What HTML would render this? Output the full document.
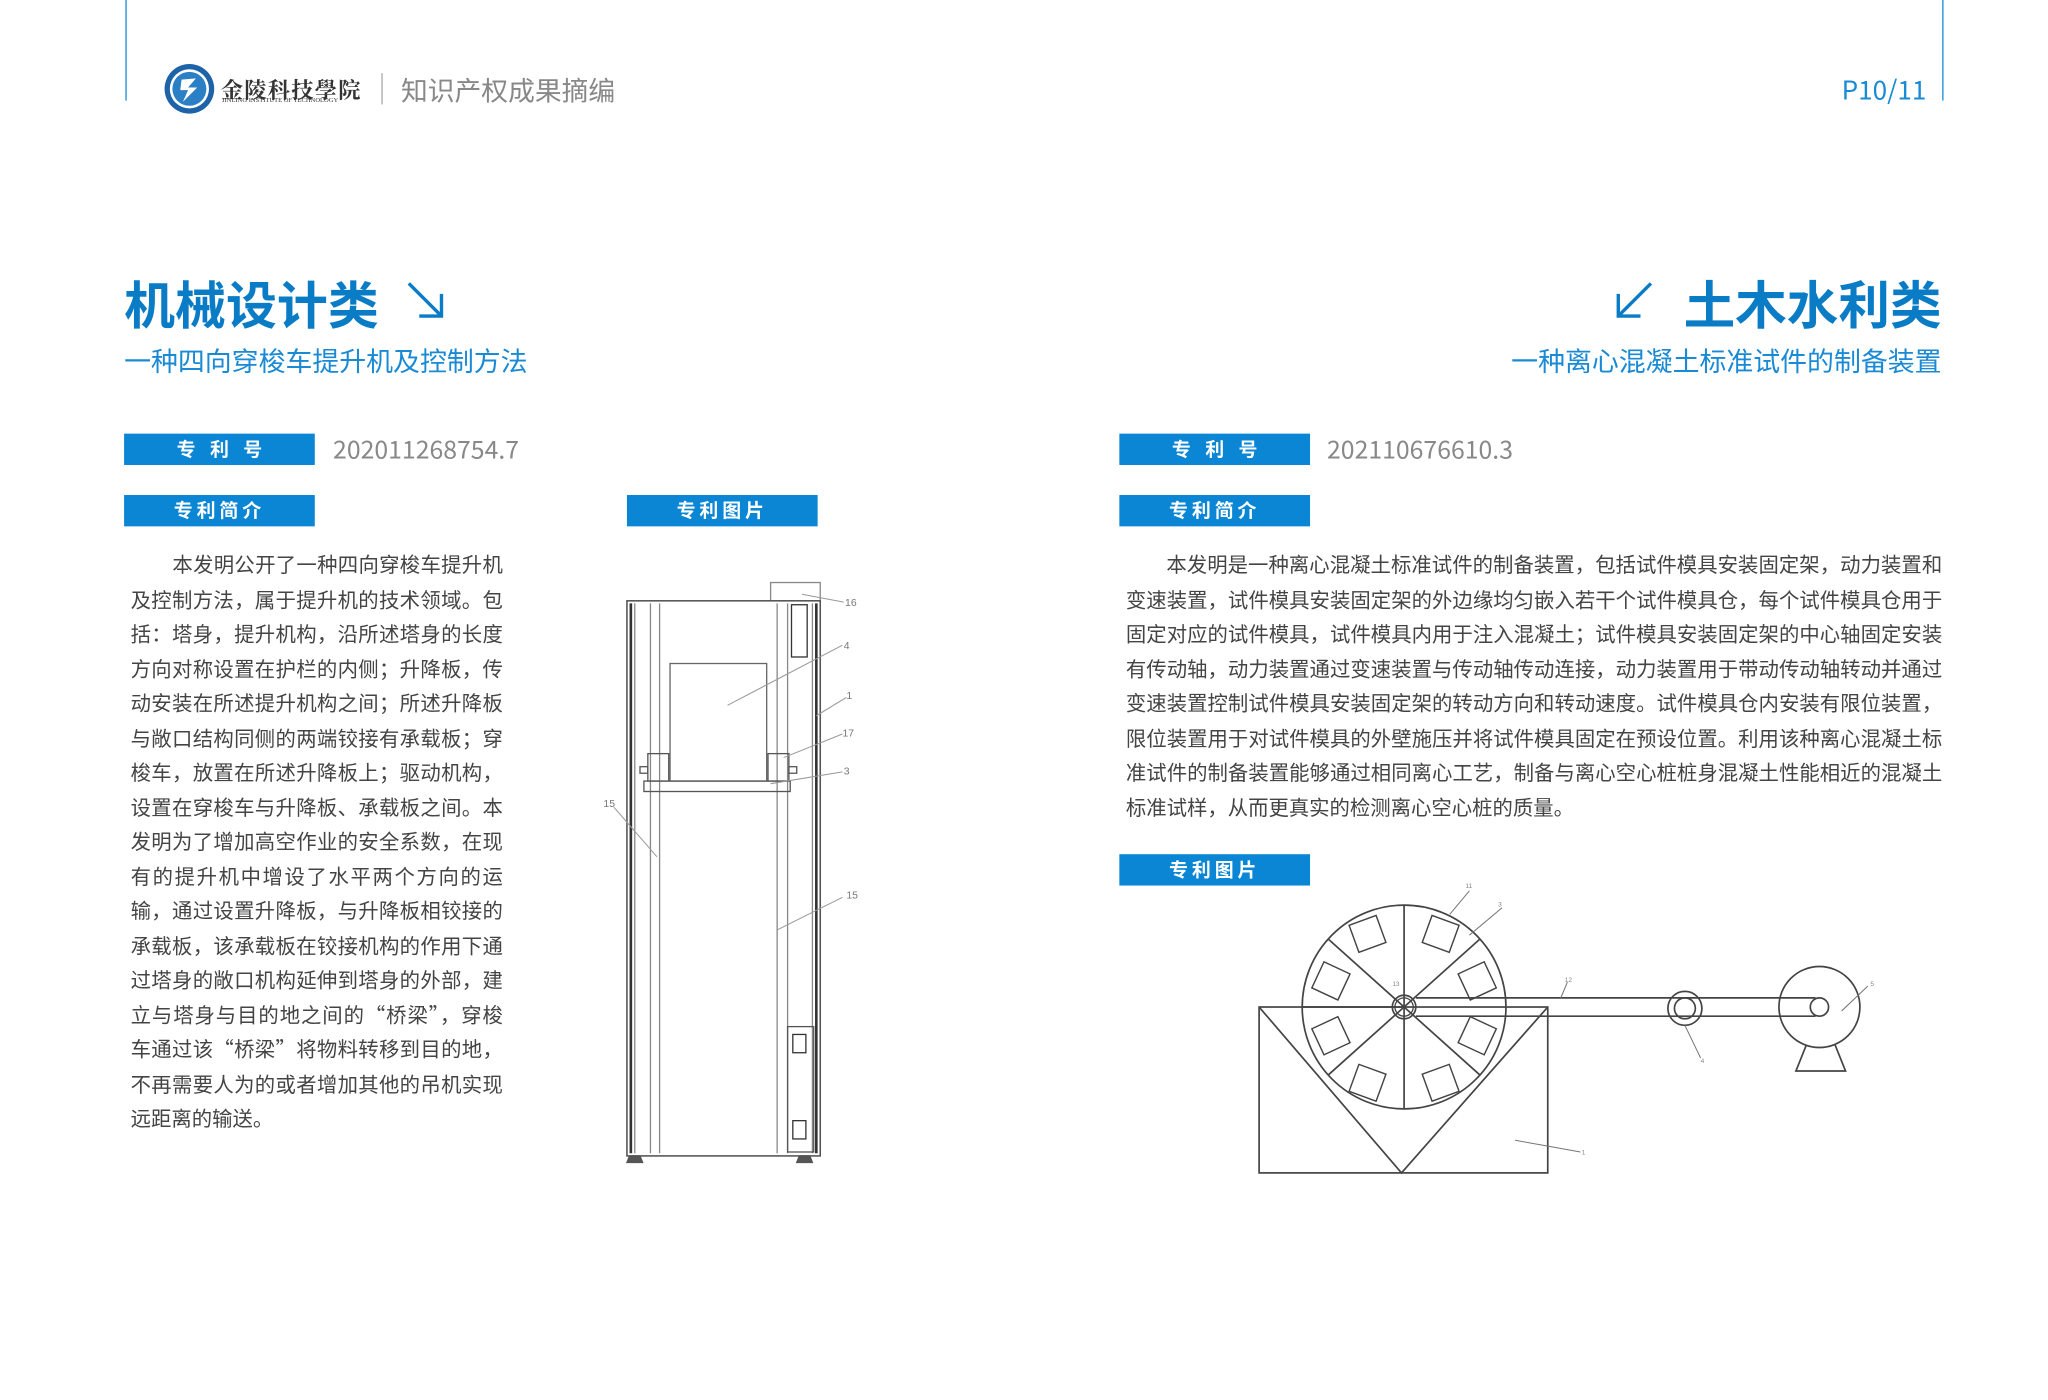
<!DOCTYPE html>
<html><head><meta charset="utf-8">
<style>
html,body{margin:0;padding:0;background:#fff;width:2048px;height:1399px;overflow:hidden}
#w{position:absolute;left:0;top:0;width:1568px;height:1072px;transform:scale(1.306122);transform-origin:0 0;font-family:"Liberation Sans","Noto Sans CJK SC",sans-serif}
.a{position:absolute;white-space:nowrap}
.box{position:absolute;width:146px;height:24px;background:#0a86d4;color:#fff;font-weight:bold;font-size:14.5px;line-height:24px;text-align:center;font-family:"Noto Sans CJK SC",sans-serif}
.num{position:absolute;font-size:19px;color:#888;line-height:24px;font-family:"Noto Sans CJK SC","Liberation Sans",sans-serif}
.ln{position:absolute;font-size:15.6px;color:#444;line-height:20px;height:20px;white-space:nowrap;text-align:justify;text-align-last:justify;font-family:"Noto Sans CJK SC",sans-serif}
.t{font-family:"Noto Sans CJK SC",sans-serif}
</style></head><body><div id="w">
<div class="a" style="left:95.5px;top:0;width:1.6px;height:77px;background:#1a8ad4"></div>
<div class="a" style="left:1486.5px;top:0;width:1.6px;height:77px;background:#1a8ad4"></div>
<svg class="a" style="left:124px;top:47px" width="42" height="42" viewBox="0 0 42 42"><circle cx="21" cy="21" r="19" fill="#1e63a8"/><circle cx="21" cy="21" r="15" fill="#fff"/><circle cx="21" cy="21" r="13" fill="#2b7fc4"/><path d="M15 14 L26 13 L20 20 L27 20 L16 31 L20 22 L14 22 Z" fill="#fff"/></svg>
<div class="a t" style="left:169px;top:55px;font-size:17px;font-weight:bold;color:#333;letter-spacing:1px;font-family:'Noto Serif CJK SC',serif">金陵科技學院</div>
<div class="a" style="left:170px;top:75px;font-size:5px;color:#333;font-family:'Liberation Serif',serif">JINLING INSTITUTE OF TECHNOLOGY</div>
<div class="a" style="left:291.5px;top:56px;width:1px;height:24px;background:#aaa"></div>
<div class="a t" style="left:307px;top:54px;font-size:20.5px;color:#888;line-height:28px">知识产权成果摘编</div>
<div class="a" style="left:1410px;top:54px;font-size:20px;color:#1a8ad4;line-height:28px;font-family:'Noto Sans CJK SC',sans-serif">P10/11</div>

<div class="a t" style="left:95px;top:205px;font-size:39px;font-weight:bold;color:#0a7cc6;line-height:54px">机械设计类</div>
<svg class="a" style="left:308px;top:213px" width="36" height="34"><path d="M5 4 L30 29 M30 12 L30 29 L13 29" stroke="#0a7cc6" stroke-width="2.6" fill="none"/></svg>
<div class="a t" style="left:95px;top:262px;font-size:20.6px;color:#1a8ad4;line-height:27px">一种四向穿梭车提升机及控制方法</div>
<svg class="a" style="left:1234px;top:213px" width="36" height="34"><path d="M30 4 L5 29 M5 12 L5 29 L22 29" stroke="#0a7cc6" stroke-width="2.6" fill="none"/></svg>
<div class="a t" style="left:1289px;top:205px;font-size:39.5px;font-weight:bold;color:#0a7cc6;line-height:54px">土木水利类</div>
<div class="a t" style="left:1157px;top:262px;font-size:20.6px;color:#1a8ad4;line-height:27px">一种离心混凝土标准试件的制备装置</div>

<div class="box" style="left:95px;top:332px;letter-spacing:11px;text-indent:11px">专利号</div>
<div class="num" style="left:255px;top:332px">202011268754.7</div>
<div class="box" style="left:857px;top:332px;letter-spacing:11px;text-indent:11px">专利号</div>
<div class="num" style="left:1016px;top:332px">202110676610.3</div>
<div class="box" style="left:95px;top:379px;letter-spacing:3px">专利简介</div>
<div class="box" style="left:480px;top:379px;letter-spacing:3px">专利图片</div>
<div class="box" style="left:857px;top:379px;letter-spacing:3px">专利简介</div>
<div class="box" style="left:857px;top:654px;letter-spacing:3px">专利图片</div>

<div class="ln" style="left:132px;top:422px;width:253px">本发明公开了一种四向穿梭车提升机</div>
<div class="ln" style="left:100px;top:448.5px;width:285px">及控制方法，属于提升机的技术领域。包</div>
<div class="ln" style="left:100px;top:475px;width:285px">括：塔身，提升机构，沿所述塔身的长度</div>
<div class="ln" style="left:100px;top:501.5px;width:285px">方向对称设置在护栏的内侧；升降板，传</div>
<div class="ln" style="left:100px;top:528px;width:285px">动安装在所述提升机构之间；所述升降板</div>
<div class="ln" style="left:100px;top:554.5px;width:285px">与敞口结构同侧的两端铰接有承载板；穿</div>
<div class="ln" style="left:100px;top:581px;width:285px">梭车，放置在所述升降板上；驱动机构，</div>
<div class="ln" style="left:100px;top:607.5px;width:285px">设置在穿梭车与升降板、承载板之间。本</div>
<div class="ln" style="left:100px;top:634px;width:285px">发明为了增加高空作业的安全系数，在现</div>
<div class="ln" style="left:100px;top:660.5px;width:285px">有的提升机中增设了水平两个方向的运</div>
<div class="ln" style="left:100px;top:687px;width:285px">输，通过设置升降板，与升降板相铰接的</div>
<div class="ln" style="left:100px;top:713.5px;width:285px">承载板，该承载板在铰接机构的作用下通</div>
<div class="ln" style="left:100px;top:740px;width:285px">过塔身的敞口机构延伸到塔身的外部，建</div>
<div class="ln" style="left:100px;top:766.5px;width:285px">立与塔身与目的地之间的“桥梁”，穿梭</div>
<div class="ln" style="left:100px;top:793px;width:285px">车通过该“桥梁”将物料转移到目的地，</div>
<div class="ln" style="left:100px;top:819.5px;width:285px">不再需要人为的或者增加其他的吊机实现</div>
<div class="ln" style="left:100px;top:846px;text-align-last:auto">远距离的输送。</div>

<div class="ln" style="left:893px;top:422px;width:594px">本发明是一种离心混凝土标准试件的制备装置，包括试件模具安装固定架，动力装置和</div>
<div class="ln" style="left:862px;top:448.5px;width:625px">变速装置，试件模具安装固定架的外边缘均匀嵌入若干个试件模具仓，每个试件模具仓用于</div>
<div class="ln" style="left:862px;top:475px;width:625px">固定对应的试件模具，试件模具内用于注入混凝土；试件模具安装固定架的中心轴固定安装</div>
<div class="ln" style="left:862px;top:501.5px;width:625px">有传动轴，动力装置通过变速装置与传动轴传动连接，动力装置用于带动传动轴转动并通过</div>
<div class="ln" style="left:862px;top:528px;width:625px">变速装置控制试件模具安装固定架的转动方向和转动速度。试件模具仓内安装有限位装置，</div>
<div class="ln" style="left:862px;top:554.5px;width:625px">限位装置用于对试件模具的外壁施压并将试件模具固定在预设位置。利用该种离心混凝土标</div>
<div class="ln" style="left:862px;top:581px;width:625px">准试件的制备装置能够通过相同离心工艺，制备与离心空心桩桩身混凝土性能相近的混凝土</div>
<div class="ln" style="left:862px;top:607.5px;text-align-last:auto">标准试样，从而更真实的检测离心空心桩的质量。</div>

<svg class="a" style="left:0;top:0" width="1568" height="1072" viewBox="0 0 1568 1072">
<g fill="none" stroke="#555" stroke-width="1">
<rect x="590" y="446" width="38" height="14" stroke="#888"/>
<rect x="480" y="460" width="148" height="425" stroke-width="1.2"/>
<line x1="483" y1="462" x2="483" y2="883" stroke-width="2" stroke="#333"/>
<line x1="625" y1="462" x2="625" y2="883" stroke-width="2" stroke="#333"/>
<line x1="486" y1="462" x2="486" y2="883" stroke="#888"/>
<line x1="622" y1="462" x2="622" y2="883" stroke="#888"/>
<line x1="498" y1="462" x2="498" y2="883" stroke="#888"/>
<line x1="505" y1="462" x2="505" y2="883" stroke="#888"/>
<line x1="595" y1="462" x2="595" y2="883" stroke="#888"/>
<line x1="603" y1="462" x2="603" y2="883" stroke="#888"/>
<rect x="513" y="508" width="74" height="90" stroke="#666"/>
<rect x="493" y="598" width="112" height="8" stroke="#555"/>
<rect x="496" y="577" width="16" height="21"/>
<rect x="588" y="577" width="16" height="21"/>
<rect x="490" y="587" width="6" height="5"/>
<rect x="604" y="587" width="6" height="5"/>
<rect x="606" y="463" width="12" height="40" stroke="#333"/>
<rect x="603" y="786" width="20" height="96"/>
<rect x="607" y="792" width="10" height="14" stroke="#333"/>
<rect x="607" y="858" width="10" height="14" stroke="#333"/>
<path d="M482 885 L490 885 L492 890 L480 890 Z M612 885 L620 885 L622 890 L610 890 Z" fill="#555"/>
<g stroke="#999" stroke-width="0.8">
<line x1="614" y1="455" x2="646" y2="461"/>
<line x1="557" y1="540" x2="645" y2="494"/>
<line x1="625" y1="548" x2="648" y2="534"/>
<line x1="600" y1="580" x2="645" y2="562"/>
<line x1="590" y1="600" x2="645" y2="591"/>
<line x1="470" y1="618" x2="503" y2="656"/>
<line x1="595" y1="712" x2="645" y2="687"/>
</g>
</g>
<g font-size="8" fill="#777" font-family="Liberation Sans, sans-serif">
<text x="647" y="464">16</text><text x="646" y="497">4</text><text x="648" y="535">1</text><text x="645" y="564">17</text><text x="646" y="593">3</text><text x="462" y="618">15</text><text x="648" y="688">15</text>
</g>

<g fill="none" stroke="#444" stroke-width="1.3">
<rect x="964" y="771" width="221" height="127"/>
<path d="M964 771 L1073 898 L1185 771"/>
<circle cx="1075" cy="771" r="78"/>
<circle cx="1075" cy="771" r="9"/>
<circle cx="1075" cy="771" r="7" stroke-width="1"/>
<line x1="1075" y1="693" x2="1075" y2="849"/>
<line x1="1075" y1="771" x2="1017" y2="719"/>
<line x1="1075" y1="771" x2="1133" y2="719"/>
<line x1="1075" y1="771" x2="1017" y2="823"/>
<line x1="1075" y1="771" x2="1133" y2="823"/>
<line x1="1075" y1="771" x2="997" y2="771"/>
<line x1="1084" y1="764" x2="1390" y2="764"/>
<line x1="1084" y1="778" x2="1390" y2="778"/>
<circle cx="1290" cy="772" r="13"/>
<circle cx="1290" cy="772" r="8"/>
<circle cx="1393" cy="771" r="31"/>
<ellipse cx="1393" cy="771" rx="7" ry="7"/>
<path d="M1383 800 L1375 820 L1413 820 L1405 800"/>
<g stroke-width="1.1">
<rect x="1036" y="704" width="22" height="22" transform="rotate(-20 1047 715)"/>
<rect x="1092" y="704" width="22" height="22" transform="rotate(20 1103 715)"/>
<rect x="1008" y="740" width="22" height="22" transform="rotate(25 1019 751)"/>
<rect x="1120" y="740" width="22" height="22" transform="rotate(-25 1131 751)"/>
<rect x="1008" y="782" width="22" height="22" transform="rotate(-25 1019 793)"/>
<rect x="1120" y="782" width="22" height="22" transform="rotate(25 1131 793)"/>
<rect x="1036" y="818" width="22" height="22" transform="rotate(20 1047 829)"/>
<rect x="1092" y="818" width="22" height="22" transform="rotate(-20 1103 829)"/>
</g>
<g stroke="#777" stroke-width="0.8">
<line x1="1110" y1="700" x2="1125" y2="682"/>
<line x1="1125" y1="716" x2="1150" y2="695"/>
<line x1="1195" y1="764" x2="1200" y2="752"/>
<line x1="1290" y1="785" x2="1302" y2="810"/>
<line x1="1410" y1="774" x2="1430" y2="755"/>
<line x1="1160" y1="873" x2="1210" y2="882"/>
</g>
</g>
<g font-size="5" fill="#888" font-family="Liberation Sans, sans-serif">
<text x="1122" y="680">11</text><text x="1147" y="694">3</text><text x="1198" y="752">12</text><text x="1066" y="755">13</text><text x="1302" y="814">4</text><text x="1432" y="755">5</text><text x="1211" y="884">1</text>
</g>
</svg>
</div></body></html>
